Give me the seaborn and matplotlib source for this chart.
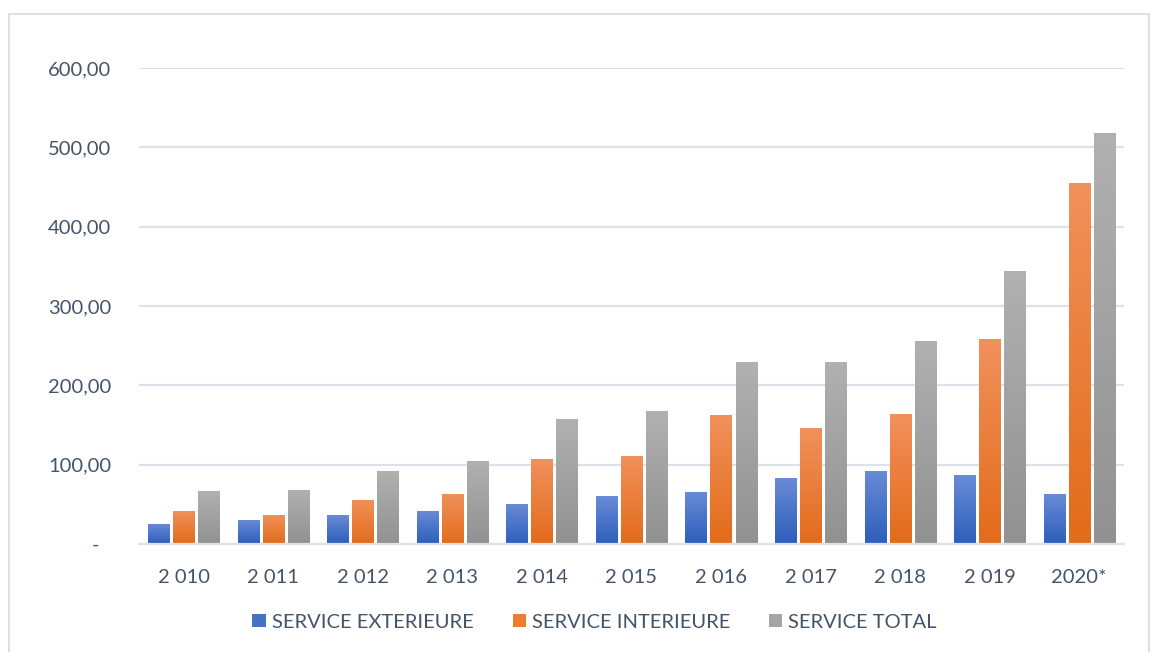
import numpy as np
import pandas as pd
import matplotlib
matplotlib.use("Agg")
import matplotlib.pyplot as plt
from matplotlib.colors import LinearSegmentedColormap
from matplotlib.patches import Rectangle
import seaborn as sns

# Data
years = ["2 010", "2 011", "2 012", "2 013", "2 014", "2 015",
         "2 016", "2 017", "2 018", "2 019", "2020*"]
service_ext = [25.8, 30.8, 37.0, 42.0, 51.0, 60.0, 66.0, 83.6, 92.5, 87.3, 63.4]
service_int = [42.0, 37.0, 56.0, 63.5, 106.6, 110.5, 162.6, 146.0, 164.3, 258.7, 455.0]
service_tot = [67.3, 68.6, 92.5, 105.0, 157.5, 168.0, 229.6, 229.6, 256.0, 344.6, 518.6]
series_names = ["SERVICE EXTERIEURE", "SERVICE INTERIEURE", "SERVICE TOTAL"]
y_ticks = [0, 100, 200, 300, 400, 500, 600]

df = pd.DataFrame({
    "year": years * 3,
    "series": np.repeat(series_names, len(years)),
    "value": service_ext + service_int + service_tot,
})

# top (light) -> bottom (dark) colours for each series
gradients = {
    "SERVICE EXTERIEURE": ("#6A8CD6", "#2C5EBC"),
    "SERVICE INTERIEURE": ("#F1915C", "#E36B19"),
    "SERVICE TOTAL": ("#B1B1B1", "#919191"),
}
mid_colors = ["#4472C4", "#ED7D31", "#A5A5A5"]
text_color = "#44546A"
grid_color = "#DDE2EA"
font_size = 14.5

sns.set_theme(style="white")
plt.rcParams["font.family"] = ["Lato", "DejaVu Sans"]

fig = plt.figure(figsize=(11.57, 6.52), dpi=100)
ax = fig.add_axes([0.120, 0.1656, 0.8515, 0.7301])

sns.barplot(data=df, x="year", y="value", hue="series", palette=mid_colors,
            width=0.84, gap=0.16, ax=ax, legend=False, saturation=1)

# vertical gradient fill for each bar
grad = np.linspace(0, 1, 256).reshape(-1, 1)
n = len(years)
for i, patch in enumerate(ax.patches):
    name = series_names[i // n]
    top_c, bot_c = gradients[name]
    cmap = LinearSegmentedColormap.from_list(name, [top_c, bot_c])
    x0, y0 = patch.get_x(), patch.get_y()
    w, h = patch.get_width(), patch.get_height()
    im = ax.imshow(grad, cmap=cmap, aspect="auto", origin="upper",
                   extent=[x0, x0 + w, y0, y0 + h], zorder=2)
    im.set_clip_path(patch)
    patch.set_facecolor("none")
    patch.set_edgecolor("none")

ax.set_xlim(-0.5, n - 0.5)
ax.set_ylim(0, 600)
ax.set_yticks(y_ticks)
ax.set_yticklabels(["-\u2007"] + [f"{v:,.2f}".replace(".", ",") for v in y_ticks[1:]])
ax.set_xlabel("")
ax.set_ylabel("")

ax.grid(axis="y", color=grid_color, linewidth=1.6, zorder=0)
ax.set_axisbelow(True)
for s in ["top", "right", "left"]:
    ax.spines[s].set_visible(False)
ax.spines["bottom"].set_color(grid_color)
ax.spines["bottom"].set_linewidth(1.6)
ax.tick_params(axis="y", length=0, pad=20, labelsize=font_size, labelcolor=text_color)
ax.tick_params(axis="x", length=0, pad=18, labelsize=font_size, labelcolor=text_color)

# legend
handles = [Rectangle((0, 0), 1, 1, facecolor=c, edgecolor="none") for c in mid_colors]
fig.legend(handles, series_names, loc="center", bbox_to_anchor=(0.514, 0.046),
           ncol=3, frameon=False, fontsize=font_size, labelcolor=text_color,
           handlelength=0.65, handleheight=0.65, handletextpad=0.3, columnspacing=1.95)

# chart frame (runs past the bottom edge of the figure)
fig.patches.append(Rectangle((9 / 1157, -10 / 652), 1140 / 1157, 648 / 652,
                             transform=fig.transFigure, fill=False,
                             edgecolor="#DCE1E8", linewidth=1.5))

fig.savefig("out.png", dpi=100, facecolor="white")
